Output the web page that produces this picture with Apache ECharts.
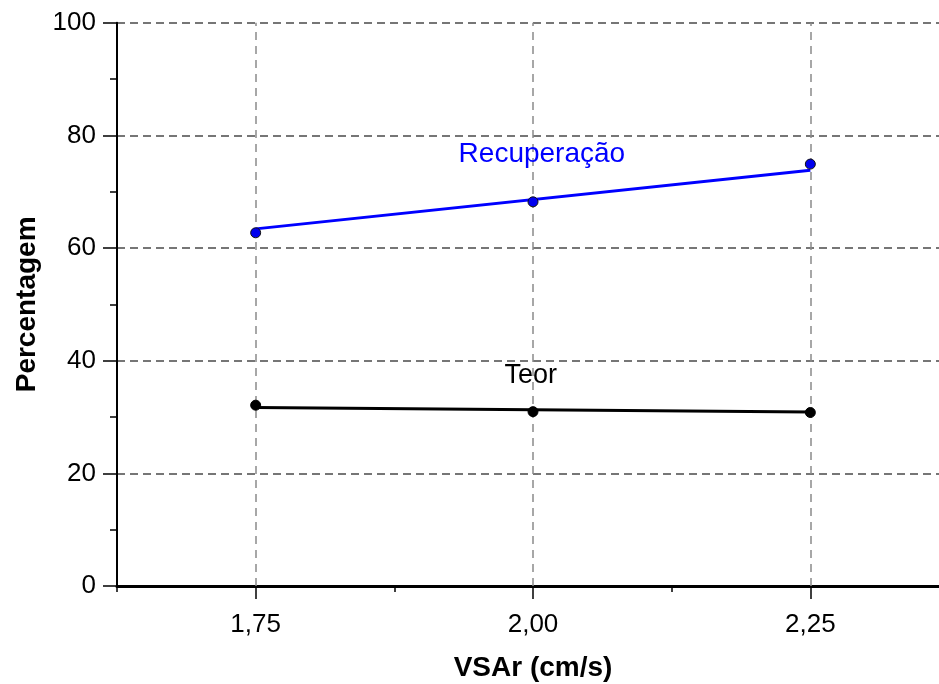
<!DOCTYPE html>
<html>
<head>
<meta charset="utf-8">
<script src="https://cdn.jsdelivr.net/npm/echarts@6/dist/echarts.min.js"></script>
<style>
  html, body { margin: 0; padding: 0; background: #fff; }
  #chart { width: 939px; height: 684px; }
</style>
</head>
<body>
<div id="chart"></div>
<script>
// Air superficial velocity (cm/s)
const vsar = [1.75, 2.00, 2.25];
const xTickLabels = ['1,75', '2,00', '2,25'];
const xMinorTicks = [1.625, 1.875, 2.125, 2.375];

// Measured points (%)
const recuperacao = [62.7, 68.2, 74.9];
const teor = [32.1, 30.95, 30.8];

// Fitted trend lines (%), at the first and last velocity
const fitX = [1.75, 2.25];
const recuperacaoFit = [63.4, 73.8];
const teorFit = [31.7, 30.9];

const FONT = '"Liberation Sans", Arial, sans-serif';

const pairs = (xs, ys) => xs.map((x, i) => [x, ys[i]]);

const chart = echarts.init(document.getElementById('chart'), null, { renderer: 'canvas' });

chart.setOption({
  animation: false,
  backgroundColor: '#ffffff',
  grid: {
    left: 117, top: 22.7, width: 832, height: 563.3,
    containLabel: false, outerBoundsMode: 'none'
  },
  xAxis: [
    {
      type: 'value',
      min: 1.625,
      max: 2.375,
      interval: 0.125,
      position: 'bottom',
      name: 'VSAr (cm/s)',
      nameLocation: 'middle',
      nameGap: 68,
      nameTextStyle: { fontFamily: FONT, fontSize: 28, fontWeight: 'bold', color: '#000' },
      axisLine: { show: true, onZero: false, lineStyle: { color: '#000', width: 3 } },
      axisTick: {
        show: true, inside: false, length: 13, customValues: vsar,
        lineStyle: { color: '#000', width: 1.5 }
      },
      axisLabel: {
        show: true, customValues: vsar, margin: 26,
        fontFamily: FONT, fontSize: 26, color: '#000',
        formatter: v => {
          const i = vsar.findIndex(x => Math.abs(x - v) < 1e-6);
          return i >= 0 ? xTickLabels[i] : '';
        }
      },
      splitLine: { show: false }
    },
    {
      type: 'value',
      min: 1.625,
      max: 2.375,
      interval: 0.125,
      position: 'bottom',
      axisLine: { show: false },
      axisTick: {
        show: true, inside: false, length: 6, customValues: xMinorTicks,
        lineStyle: { color: '#000', width: 1.5 }
      },
      axisLabel: { show: false },
      splitLine: { show: false }
    }
  ],
  yAxis: {
    type: 'value',
    min: 0,
    max: 100,
    interval: 20,
    name: 'Percentagem',
    nameLocation: 'middle',
    nameGap: 76,
    nameTextStyle: { fontFamily: FONT, fontSize: 28, fontWeight: 'bold', color: '#000' },
    axisLine: { show: true, onZero: false, lineStyle: { color: '#000', width: 2 } },
    axisTick: { show: true, inside: false, length: 14, lineStyle: { color: '#000', width: 1.5 } },
    minorTick: { show: true, splitNumber: 2, length: 7, lineStyle: { color: '#000', width: 1.5 } },
    axisLabel: { margin: 21, fontFamily: FONT, fontSize: 26, color: '#000' },
    splitLine: { show: true, lineStyle: { color: '#4a4a4a', width: 1.5, type: [8, 5] } }
  },
  series: [
    {
      // vertical dashed grid at each velocity
      name: 'grade',
      type: 'line',
      data: [],
      silent: true,
      z: 1,
      markLine: {
        silent: true,
        z: 1,
        symbol: ['none', 'none'],
        label: { show: false },
        lineStyle: { color: '#8a8a8a', width: 1.5, type: [8, 6] },
        data: vsar.map(v => ({ xAxis: v }))
      }
    },
    {
      name: 'Recuperação ajuste',
      type: 'line',
      data: pairs(fitX, recuperacaoFit),
      showSymbol: false,
      symbol: 'none',
      lineStyle: { color: '#0000ff', width: 3 },
      z: 3
    },
    {
      name: 'Teor ajuste',
      type: 'line',
      data: pairs(fitX, teorFit),
      showSymbol: false,
      symbol: 'none',
      lineStyle: { color: '#000000', width: 3 },
      z: 3
    },
    {
      name: 'Recuperação',
      type: 'scatter',
      data: pairs(vsar, recuperacao),
      symbol: 'circle',
      symbolSize: 10,
      itemStyle: { color: '#0000ee', borderColor: '#111', borderWidth: 1, opacity: 1 },
      z: 6
    },
    {
      name: 'Teor',
      type: 'scatter',
      data: pairs(vsar, teor),
      symbol: 'circle',
      symbolSize: 10,
      itemStyle: { color: '#000000', borderColor: '#000', borderWidth: 1, opacity: 1 },
      z: 6
    },
    {
      // curve names written inside the plot
      name: 'rótulos',
      type: 'scatter',
      symbolSize: 0,
      silent: true,
      itemStyle: { opacity: 1 },
      data: [
        { value: [2.008, 76.6], name: 'Recuperação', label: { color: '#0000ff', fontSize: 28 } },
        { value: [1.998, 37.3], name: 'Teor', label: { color: '#000000', fontSize: 27 } }
      ],
      label: {
        show: true,
        position: 'inside',
        formatter: p => p.name,
        fontFamily: FONT,
        fontSize: 27
      },
      z: 7
    }
  ]
});
</script>
</body>
</html>
